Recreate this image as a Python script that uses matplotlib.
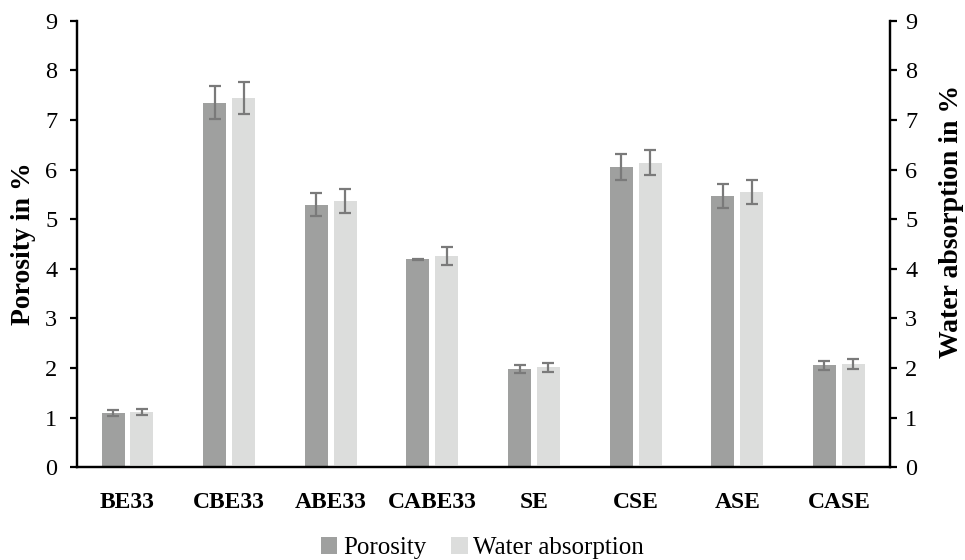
import matplotlib
matplotlib.use("Agg")
import matplotlib.pyplot as plt
import numpy as np
from matplotlib.patches import Patch

# Sample names
categories = ["BE33", "CBE33", "ABE33", "CABE33", "SE", "CSE", "ASE", "CASE"]

# Porosity (%) and its standard deviation
porosity = [1.10, 7.35, 5.29, 4.19, 1.98, 6.05, 5.47, 2.06]
porosity_err = [0.06, 0.33, 0.23, 0.01, 0.085, 0.26, 0.245, 0.09]

# Water absorption (%) and its standard deviation
water_abs = [1.12, 7.45, 5.37, 4.26, 2.02, 6.14, 5.55, 2.08]
water_abs_err = [0.06, 0.32, 0.235, 0.185, 0.09, 0.255, 0.24, 0.095]

y_ticks = list(range(0, 10))

plt.rcParams["font.family"] = ["Liberation Serif", "DejaVu Serif"]

fig = plt.figure(figsize=(9.65, 5.6), dpi=100)
ax = fig.add_axes([0.0795, 0.1655, 0.8425, 0.7975])
ax2 = ax.twinx()

x = np.arange(len(categories))
width = 0.226
offset = 0.142
c_por = "#9fa09f"
c_wat = "#dcdddc"
c_err = "#7a7a7a"

err_kw = dict(ecolor=c_err, elinewidth=1.6, capsize=4.6, capthick=1.6)

ax.bar(x - offset, porosity, width, color=c_por, yerr=porosity_err,
       error_kw=err_kw, zorder=2)
ax2.bar(x + offset, water_abs, width, color=c_wat, yerr=water_abs_err,
        error_kw=err_kw, zorder=2)

for a, pad in ((ax, 9), (ax2, 6)):
    a.set_ylim(0, 9)
    a.set_yticks(y_ticks)
    a.set_xlim(-0.5, len(categories) - 0.5)
    for s in a.spines.values():
        s.set_linewidth(1.6)
        s.set_color("black")
    a.spines["top"].set_visible(False)
    a.tick_params(axis="y", labelsize=17.5, length=5, width=1.6, direction="out", pad=pad)

ax.set_xticks(x)
ax.set_xticklabels(categories, fontsize=17, fontweight="bold")
ax.tick_params(axis="x", length=0, pad=18)

ax.set_ylabel("Porosity in %", fontsize=20, fontweight="bold")
ax.yaxis.set_label_coords(-0.0495, 0.5)
ax2.set_ylabel("Water absorption in %", fontsize=20, fontweight="bold",
               rotation=90)
ax2.yaxis.set_label_coords(1.061, 0.551)

handles = [Patch(facecolor=c_por, edgecolor="none"),
           Patch(facecolor=c_wat, edgecolor="none")]
fig.legend(handles, ["Porosity", "Water absorption"], loc="lower center",
           bbox_to_anchor=(0.5, -0.039), ncol=2, frameon=False, fontsize=18,
           handlelength=0.65, handleheight=0.65, handletextpad=0.23,
           columnspacing=1.0)

fig.savefig("out.png", dpi=100)
